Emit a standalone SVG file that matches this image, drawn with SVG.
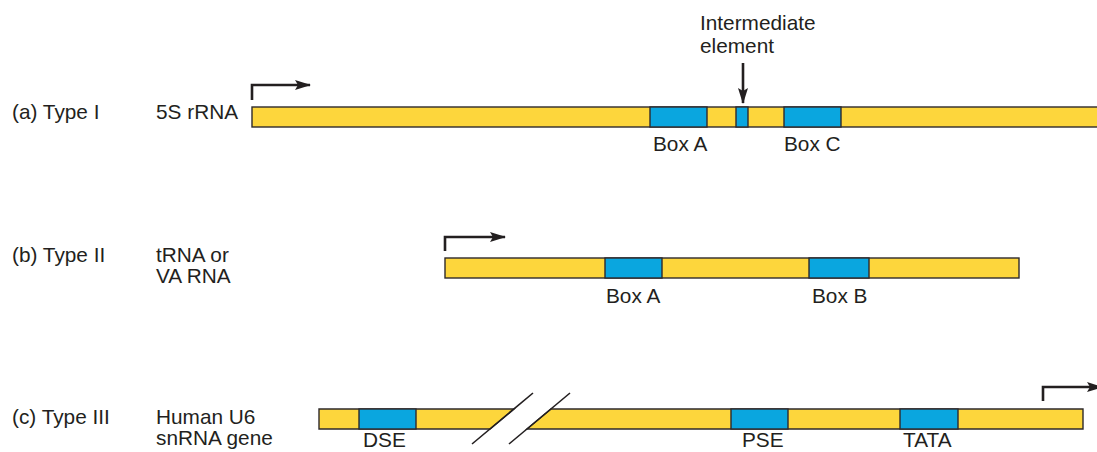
<svg xmlns="http://www.w3.org/2000/svg" width="1097" height="452" viewBox="0 0 1097 452">
<defs>
<style>
.t{font-family:"Liberation Sans",Arial,sans-serif;font-size:20.8px;fill:#231f20}
.bar{fill:#fdd63c;stroke:#2e2a2b;stroke-width:1.4}
.box{fill:#0aa6df;stroke:#2e2a2b;stroke-width:1.4}
.arr{fill:none;stroke:#231f20;stroke-width:2.6}
.sl{fill:none;stroke:#231f20;stroke-width:1.6}
</style>
<marker id="ah" viewBox="0 0 16 10" refX="15" refY="5" markerWidth="16" markerHeight="10" markerUnits="userSpaceOnUse" orient="auto">
<path d="M0,0 L16,5 L0,10 L3,5 z" fill="#231f20"/>
</marker>
</defs>
<rect width="1097" height="452" fill="#fff"/>

<g id="labels">
<text class="t" x="12" y="119">(a) Type I</text>
<text class="t" x="156" y="119">5S rRNA</text>
<text class="t" x="12" y="262">(b) Type II</text>
<text class="t" x="156" y="262">tRNA or</text>
<text class="t" x="156" y="283">VA RNA</text>
<text class="t" x="12" y="424">(c) Type III</text>
<text class="t" x="156" y="424">Human U6</text>
<text class="t" x="156" y="445">snRNA gene</text>
</g>

<g id="gene-a">
<rect class="bar" x="252" y="107" width="850" height="20"/>
<rect class="box" x="650" y="107" width="57" height="20"/>
<rect class="box" x="736" y="107" width="12" height="20"/>
<rect class="box" x="784" y="107" width="57" height="20"/>
<text class="t" x="653" y="151">Box A</text>
<text class="t" x="784" y="151">Box C</text>
<text class="t" x="700" y="30">Intermediate</text>
<text class="t" x="700" y="53">element</text>
</g>

<g id="gene-b">
<rect class="bar" x="445" y="258" width="574" height="20"/>
<rect class="box" x="605" y="258" width="57" height="20"/>
<rect class="box" x="809" y="258" width="60" height="20"/>
<text class="t" x="606" y="303">Box A</text>
<text class="t" x="812" y="303">Box B</text>
</g>

<g id="gene-c">
<polygon class="bar" points="319,409 514,409 490,429 319,429"/>
<polygon class="bar" points="551,409 1083,409 1083,429 527,429"/>
<rect class="box" x="359" y="409" width="57" height="20"/>
<rect class="box" x="731" y="409" width="57" height="20"/>
<rect class="box" x="900" y="409" width="58" height="20"/>
<text class="t" x="363" y="447">DSE</text>
<text class="t" x="742" y="447">PSE</text>
<text class="t" x="903" y="447">TATA</text>
</g>

<g id="connectors">
<path class="arr" d="M252,100 V85 H310" marker-end="url(#ah)"/>
<path class="arr" d="M743,63 V103" marker-end="url(#ah)"/>
<path class="arr" d="M445,251 V237 H505" marker-end="url(#ah)"/>
<path class="arr" d="M1043,401 V387 H1102" marker-end="url(#ah)"/>
<path class="sl" d="M472,444 L533,393"/>
<path class="sl" d="M509,444 L570,393"/>
</g>
</svg>
